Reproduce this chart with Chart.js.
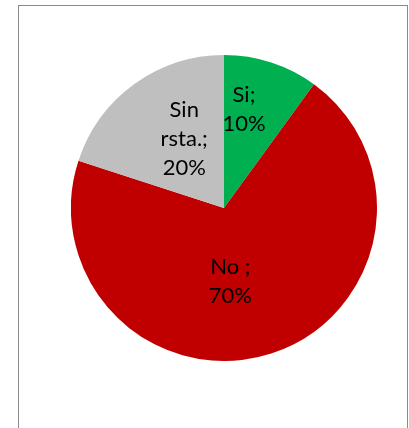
<!DOCTYPE html>
<html>
<head>
<meta charset="utf-8">
<script src="https://cdn.jsdelivr.net/npm/chart.js@4"></script>
<style>
  html, body { margin: 0; padding: 0; background: #fff; width: 409px; height: 428px; overflow: hidden; }
  #frame { position: absolute; left: 18px; top: 5px; width: 388px; height: 440px; border: 1px solid #8a8a8a; border-bottom: none; box-sizing: content-box; }
  #wrap { position: absolute; left: 71px; top: 55px; width: 306px; height: 306px; }
</style>
</head>
<body>
<div id="frame"></div>
<div id="wrap"><canvas id="c"></canvas></div>
<script>
const categories = ["Si", "No ", "Sin rsta."];
const values = [10, 70, 20];
const labelLines = [["Si;", "10%"], ["No ;", "70%"], ["Sin", "rsta.;", "20%"]];
const colors = ["#00B050", "#C00000", "#BFBFBF"];

// label placement: [angle offset from slice mid (deg), radius fraction]
const labelPlacement = [[-6.6, 0.66], [13, 0.48], [6, 0.52]];

const labelPlugin = {
  id: 'sliceLabels',
  afterDatasetsDraw(chart) {
    const ctx = chart.ctx;
    const meta = chart.getDatasetMeta(0);
    ctx.save();
    ctx.font = '22px Lato';
    ctx.fillStyle = '#000';
    ctx.textAlign = 'center';
    ctx.textBaseline = 'middle';
    const lh = 29;
    meta.data.forEach((arc, i) => {
      const p = arc.getProps(['x', 'y', 'startAngle', 'endAngle', 'outerRadius'], true);
      const mid = (p.startAngle + p.endAngle) / 2 + labelPlacement[i][0] * Math.PI / 180;
      const r = p.outerRadius * labelPlacement[i][1];
      const cx = p.x + Math.cos(mid) * r;
      const cy = p.y + Math.sin(mid) * r;
      const lines = labelLines[i];
      lines.forEach((t, k) => {
        ctx.fillText(t, cx, cy + (k - (lines.length - 1) / 2) * lh);
      });
    });
    ctx.restore();
  }
};

new Chart(document.getElementById('c'), {
  type: 'pie',
  data: {
    labels: categories,
    datasets: [{ data: values, backgroundColor: colors, borderWidth: 0 }]
  },
  options: {
    responsive: true,
    maintainAspectRatio: false,
    animation: false,
    layout: { padding: 0 },
    plugins: { legend: { display: false }, tooltip: { enabled: false } }
  },
  plugins: [labelPlugin]
});
</script>
</body>
</html>
